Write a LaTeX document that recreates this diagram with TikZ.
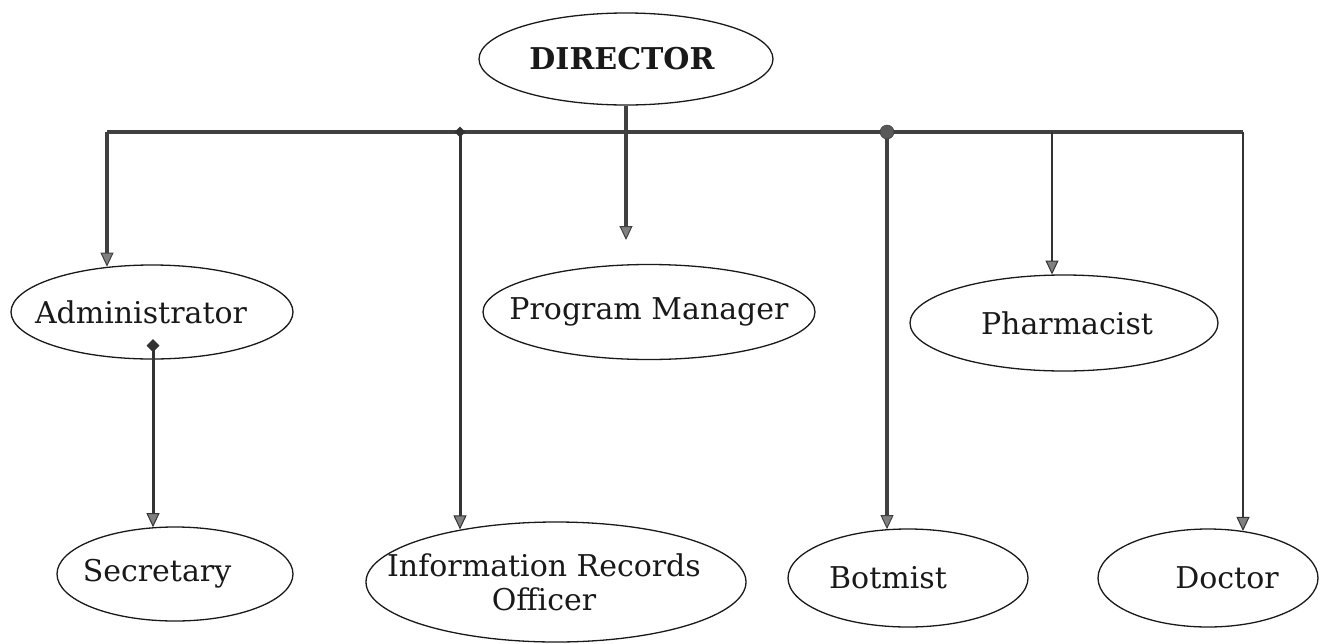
\documentclass[tikz,border=0pt]{standalone}
\usepackage{fontspec}
\setmainfont{DejaVu Serif}
\usetikzlibrary{arrows.meta,shapes.geometric,calc}
\begin{document}
\begin{tikzpicture}[x=1pt,y=-1pt,
  box/.style={ellipse,draw=black!90,line width=1.3pt,inner sep=0pt},
  lbl/.style={font=\fontsize{30}{34}\selectfont,align=center,text=black!90},
  heavy/.style={draw=black!75,line width=4.5pt},
  medium/.style={draw=black!80,line width=3pt},
  light/.style={draw=black!80,line width=1.6pt},
  tip/.style={-{Triangle[width=13pt,length=14pt,fill=black!50,line width=1pt]}},
  dmark/.style={diamond,fill=black!80,inner sep=0pt,minimum size=#1},
  cmark/.style={circle,fill=black!65,draw=black!80,inner sep=0pt,minimum size=#1}
]
\useasboundingbox (0,0) rectangle (1320,643);

% nodes
\node[box,minimum width=294pt,minimum height=92pt,
      label={[lbl,font=\fontsize{30}{34}\selectfont\bfseries,xshift=-4pt]center:DIRECTOR}] (dir) at (626,59) {};
\node[box,minimum width=282pt,minimum height=94pt,
      label={[lbl,xshift=-11pt]center:Administrator}] (admin) at (152,312) {};
\node[box,minimum width=332pt,minimum height=95pt,
      label={[lbl]center:Program Manager}] (pm) at (649,312) {};
\node[box,minimum width=308pt,minimum height=96pt,
      label={[lbl,xshift=3pt]center:Pharmacist}] (pharm) at (1064,323) {};
\node[box,minimum width=236pt,minimum height=94pt,
      label={[lbl,xshift=-18pt]center:Secretary}] (sec) at (175,574) {};
\node[box,minimum width=380pt,minimum height=120pt,
      label={[lbl,xshift=-12pt]center:Information Records\\Officer}] (iro) at (556,582) {};
\node[box,minimum width=240pt,minimum height=98pt,
      label={[lbl,xshift=-20pt]center:Botmist}] (bot) at (908,578) {};
\node[box,minimum width=220pt,minimum height=98pt,
      label={[lbl,xshift=19pt]center:Doctor}] (doc) at (1208,578) {};

% junction coordinates on the bar
\coordinate (bl) at (107,132);
\coordinate (br) at (1243,132);
\coordinate (jdir) at (626,132);
\coordinate (jiro) at (460,132);
\coordinate (jbot) at (887,132);
\coordinate (jph) at (1052,132);
\coordinate (pmtip) at (626,240);
\coordinate (sdia) at ($(admin.south)+(1,-14)$);

% bar and connectors
\draw[heavy] (bl) -- (br);
\draw[heavy,tip] (dir.south) -- (pmtip);
\draw[heavy,tip] (bl) -- (bl |- admin.134.7);
\draw[medium,tip] (jiro) -- (jiro |- iro.151.6);
\draw[heavy,tip,line width=4pt] (jbot) -- (jbot |- bot.113.5);
\draw[light,tip] (jph) -- (jph |- pharm.104);
\draw[light,tip] (br) -- (br |- doc.53);
\draw[medium,tip] (sdia) -- (sdia |- sec.115.5);

% markers
\node[dmark=11pt] (diro) at (jiro) {};
\node[cmark=14pt] (cbot) at (jbot) {};
\node[dmark=13pt] (dsec) at (sdia) {};
\end{tikzpicture}
\end{document}
